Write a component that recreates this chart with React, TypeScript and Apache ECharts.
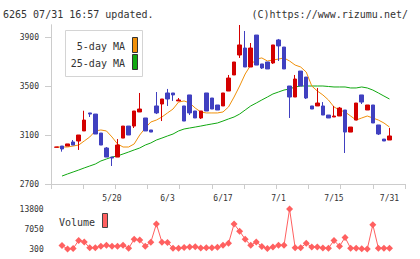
import React, { useEffect, useRef } from "react";
import * as echarts from "echarts";

const dates = ["5/1","5/7","5/8","5/11","5/12","5/13","5/14","5/15","5/18","5/19","5/20","5/21","5/22","5/25","5/26","5/27","5/28","5/29","6/1","6/2","6/3","6/4","6/5","6/8","6/9","6/10","6/11","6/12","6/15","6/16","6/17","6/18","6/19","6/22","6/23","6/24","6/25","6/26","6/29","6/30","7/1","7/2","7/3","7/6","7/7","7/8","7/9","7/10","7/13","7/14","7/15","7/16","7/17","7/20","7/21","7/22","7/27","7/28","7/29","7/30","7/31"];
const labeledDates = ["5/20", "6/3", "6/17", "7/1", "7/15", "7/31"];

const opens = [3000,3010,3010,3043,3051,3133,3280,3271,3116,2994,2920,2920,3075,3173,3173,3288,3239,3141,3337,3353,3443,3443,3378,3337,3427,3296,3239,3443,3402,3345,3337,3459,3590,3753,3810,3655,3916,3680,3696,3688,3876,3818,3500,3410,3622,3573,3337,3337,3337,3263,3247,3255,3304,3124,3222,3427,3304,3345,3182,3067,3059];
const closes = [3002,2986,3027,3018,3100,3222,3271,3108,3018,2920,2912,3018,3173,3100,3296,3312,3133,3124,3280,3394,3394,3427,3386,3214,3280,3239,3296,3296,3312,3304,3443,3565,3696,3835,3655,3810,3671,3647,3639,3835,3827,3639,3410,3557,3500,3402,3312,3361,3263,3239,3255,3320,3124,3165,3361,3369,3345,3198,3108,3051,3092];
const lows = [3000,2964,3010,3018,2978,3133,3247,3108,3018,2920,2847,2920,3075,3100,3157,3288,3133,3124,3271,3214,3337,3378,3378,3214,3263,3239,3231,3296,3312,3304,3337,3459,3590,3729,3655,3655,3671,3639,3639,3680,3704,3639,3239,3410,3500,3394,3312,3337,3263,3239,3247,3255,2953,3124,3222,3353,3304,3198,3100,3051,3059];
const highs = [3002,3010,3027,3059,3100,3298,3280,3271,3116,3002,2920,3067,3173,3173,3296,3443,3239,3141,3451,3394,3476,3443,3402,3337,3427,3296,3296,3443,3402,3345,3443,3590,3696,3998,3949,3851,3916,3680,3696,3835,3884,3818,3500,3590,3622,3573,3337,3484,3369,3263,3337,3329,3304,3165,3361,3427,3345,3345,3182,3067,3157];

const ma5 = [3002,3002,3002,3010,3018,3051,3084,3133,3141,3133,3084,3027,3002,3002,3027,3100,3157,3206,3222,3247,3280,3312,3369,3378,3361,3320,3288,3280,3280,3280,3288,3329,3410,3500,3598,3671,3720,3729,3704,3712,3720,3729,3704,3671,3655,3614,3500,3459,3427,3386,3329,3304,3288,3255,3222,3239,3255,3239,3222,3198,3165];
const ma25 = [null,2765,2782,2798,2814,2831,2847,2863,2888,2904,2920,2929,2945,2961,2978,2994,3018,3035,3059,3075,3092,3108,3133,3149,3157,3165,3173,3182,3190,3198,3214,3231,3247,3271,3304,3337,3361,3386,3410,3435,3451,3467,3476,3492,3500,3500,3500,3500,3500,3496,3492,3492,3492,3484,3484,3492,3484,3467,3443,3418,3394];

const volumes = [null,1500,300,450,3200,2700,700,750,1250,1600,1250,1250,1550,550,3600,3300,1250,2600,8740,2600,2500,550,550,800,950,1100,650,750,750,900,1550,2200,8740,6300,3600,1550,2700,1150,450,1000,1550,1550,13800,750,750,2200,1000,1000,650,550,3200,1250,4200,550,550,350,300,8500,550,550,550];

const priceTicks = [2700, 3100, 3500, 3900];
const volumeTicks = [300, 7050, 13800];

const FONT = '"DejaVu Sans Mono", monospace';
const UP = "#d40000";
const DOWN = "#4040c0";
const ORANGE = "#f0900a";
const GREEN = "#11a811";
const VOL = "#ff6060";
const AXIS = "#cccccc";
const TEXT = "#333333";

const plain = (v: number) => String(v);

export default function App() {
  const ref = useRef<HTMLDivElement>(null);
  useEffect(() => {
    if (!ref.current) return;
    const chart = echarts.init(ref.current, undefined, { renderer: "svg" });
    const candles = opens.map((o, i) => [o, closes[i], lows[i], highs[i]]);
    const option: any = {
      animation: false,
      backgroundColor: "#ffffff",
      grid: [
        { left: 53.7, top: 24.75, width: 338.55, height: 159.25 },
        { left: 51, top: 24.75, width: 354, height: 159.25 },
        { left: 53.7, top: 209, width: 338.55, height: 40 },
      ],
      xAxis: [
        {
          type: "category", gridIndex: 0, data: dates, boundaryGap: true,
          axisLine: { show: false }, axisTick: { show: false }, splitLine: { show: false },
          axisLabel: {
            interval: (idx: number, val: string) => labeledDates.includes(val),
            fontSize: 8, color: TEXT, fontFamily: FONT, margin: 10,
          },
        },
        {
          type: "value", gridIndex: 1, min: 0, max: 11, interval: 1,
          axisLine: { show: true, lineStyle: { color: AXIS } },
          axisTick: { show: true, length: 5, lineStyle: { color: AXIS } },
          axisLabel: { show: false }, splitLine: { show: false },
        },
        {
          type: "category", gridIndex: 2, data: dates, boundaryGap: true, show: false,
        },
      ],
      yAxis: [
        {
          type: "value", gridIndex: 0, min: 2700, max: 4000, interval: 400, offset: 2.7,
          axisLine: { show: true, lineStyle: { color: AXIS } },
          axisTick: { show: true, length: 6, lineStyle: { color: AXIS }, customValues: priceTicks },
          axisLabel: { customValues: priceTicks, fontSize: 8, color: TEXT, fontFamily: FONT, margin: 12, formatter: plain },
          splitLine: { show: false },
        },
        { type: "value", gridIndex: 1, min: 0, max: 1, show: false },
        {
          type: "value", gridIndex: 2, min: 300, max: 13800, interval: 6750,
          axisLine: { show: false }, axisTick: { show: false }, splitLine: { show: false },
          axisLabel: { fontSize: 8, color: TEXT, fontFamily: FONT, margin: 10, customValues: volumeTicks, formatter: plain },
        },
      ],
      series: [
        {
          type: "line", xAxisIndex: 0, yAxisIndex: 0, data: ma25, symbol: "none", z: 1,
          lineStyle: { color: GREEN, width: 1 }, itemStyle: { color: GREEN },
        },
        {
          type: "line", xAxisIndex: 0, yAxisIndex: 0, data: ma5, symbol: "none", z: 1,
          lineStyle: { color: ORANGE, width: 1 }, itemStyle: { color: ORANGE },
        },
        {
          type: "candlestick", xAxisIndex: 0, yAxisIndex: 0, data: candles, barWidth: 4, z: 3,
          itemStyle: { color: UP, color0: DOWN, borderColor: UP, borderColor0: DOWN, borderWidth: 1 },
        },
        {
          type: "line", xAxisIndex: 2, yAxisIndex: 2, data: volumes, symbol: "diamond", symbolSize: 7,
          showAllSymbol: true,
          lineStyle: { color: VOL, width: 1 }, itemStyle: { color: VOL },
        },
      ],
      graphic: [
        { type: "text", x: 3, y: 14, style: { text: "6265 07/31 16:57 updated.", font: `10px ${FONT}`, fill: TEXT, align: "left", verticalAlign: "middle" } },
        { type: "text", x: 408, y: 14, style: { text: "(C)https://www.rizumu.net/", font: `10px ${FONT}`, fill: TEXT, align: "right", verticalAlign: "middle" } },
        { type: "rect", z: 20, shape: { x: 65.5, y: 30.5, width: 77, height: 46 }, style: { fill: "#ffffff", stroke: "#d4d4d4", lineWidth: 1 } },
        { type: "text", z: 21, x: 125, y: 46, style: { text: "5-day MA", font: `10px ${FONT}`, fill: TEXT, align: "right", verticalAlign: "middle" } },
        { type: "text", z: 21, x: 125, y: 63, style: { text: "25-day MA", font: `10px ${FONT}`, fill: TEXT, align: "right", verticalAlign: "middle" } },
        { type: "rect", z: 21, shape: { x: 132.5, y: 37.5, width: 5, height: 15 }, style: { fill: ORANGE, stroke: "#333", lineWidth: 1 } },
        { type: "rect", z: 21, shape: { x: 132.5, y: 54.5, width: 5, height: 15 }, style: { fill: GREEN, stroke: "#333", lineWidth: 1 } },
        { type: "text", z: 21, x: 59, y: 222, style: { text: "Volume", font: `10px ${FONT}`, fill: TEXT, align: "left", verticalAlign: "middle" } },
        { type: "rect", z: 21, shape: { x: 102.5, y: 213.5, width: 5, height: 14 }, style: { fill: VOL, stroke: "#444", lineWidth: 1 } },
      ],
    };
    chart.setOption(option);
    return () => chart.dispose();
  }, []);
  return (
    <div
      ref={ref}
      style={{ position: "fixed", left: 0, top: 0, width: 420, height: 259, background: "#fff" }}
    />
  );
}
